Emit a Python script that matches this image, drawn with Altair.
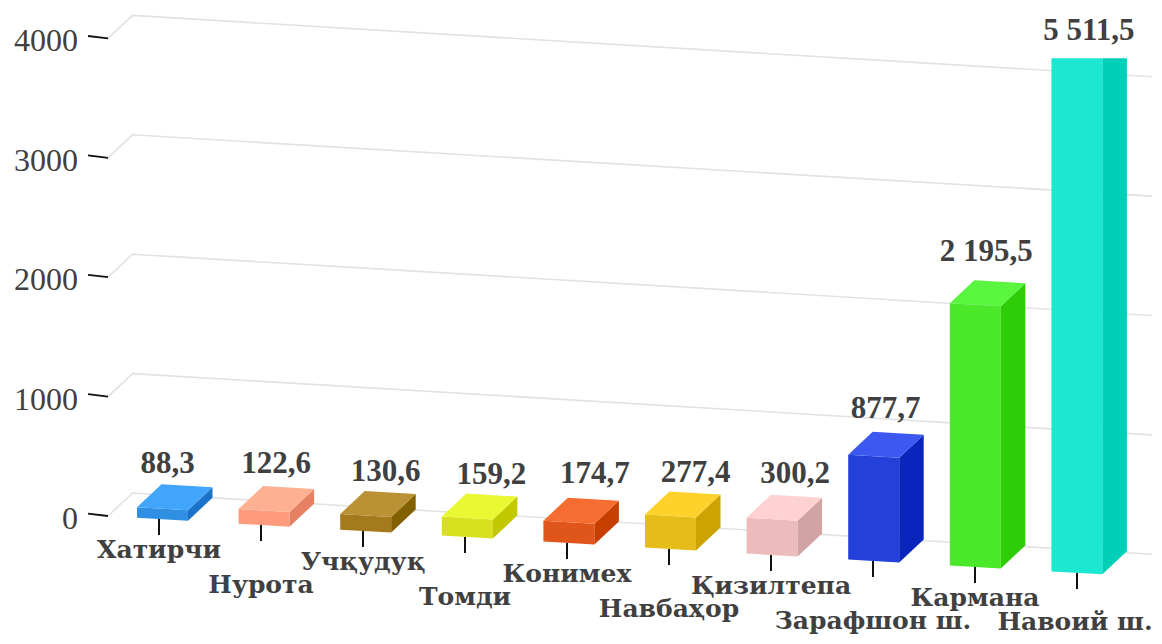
import altair as alt
import pandas as pd

categories = ["Хатирчи", "Нурота", "Учқудуқ", "Томди", "Конимех", "Навбаҳор", "Қизилтепа", "Зарафшон ш.", "Кармана", "Навоий ш."]
values = [88.3, 122.6, 130.6, 159.2, 174.7, 277.4, 300.2, 877.7, 2195.5, 5511.5]
labels = ["88,3", "122,6", "130,6", "159,2", "174,7", "277,4", "300,2", "877,7", "2 195,5", "5 511,5"]
axis_ticks = [0, 1000, 2000, 3000, 4000]
front_colors = ["#2f8fe2", "#fd9b7c", "#a47a1c", "#d8e020", "#e0551a", "#e6bc18", "#ecbcbc", "#2340d8", "#4ae828", "#1ce8d2"]
top_colors = ["#40a5fb", "#ffb093", "#ba9133", "#eaf833", "#f56d30", "#ffd22b", "#ffd2d2", "#3c58f0", "#5af53e", "#1ce8d2"]
side_colors = ["#1a73c8", "#e58063", "#836000", "#c3c900", "#c63e00", "#cca300", "#d2a3a3", "#0a25bb", "#2fcc08", "#00cfb8"]
label_dx = [5, 12, 20, 24, 26, 25, 23, 12, 11, 12]
label_lift = [11, 13, 10, 10, 15, 9, 12, 14, 19, 18]

W, H = 1146, 628
K = 0.1194        # px per axis unit
SLOPE = 0.0587    # floor tilt, px per px
X0, Y0 = 108, 516 # page position of the zero line at the axis
DX, DY = 24.5, 23 # depth offset of the oblique projection
BAR_W, STEP, LEFT = 51, 101.6, 137
CEIL = (Y0 - 58.3) / K  # the tallest bar is cut off at this axis height
YMIN = (Y0 - 8 - H) / K


def Y(px, v=0.0, depth=0.0):
    return v - SLOPE * (px - X0) / K + depth * DY / K


def pt(px):
    return px - 8


polys, texts, cats, ticks = [], [], [], []
domain, colors = [], []


def poly(name, color, points):
    domain.append(name)
    colors.append(color)
    for n, (x, y) in enumerate(points):
        polys.append({"face": name, "n": n, "x": pt(x), "y": y})


for i, v in enumerate(values):
    x0 = LEFT + i * STEP
    x1 = x0 + BAR_W
    cut = Y(x0, v) > CEIL
    t0 = min(Y(x0, v), CEIL)
    t1 = min(Y(x1, v), CEIL)
    b0, b1 = Y(x0), Y(x1)
    poly(f"{i}f", front_colors[i], [(x0, b0), (x1, b1), (x1, t1), (x0, t0)])
    s0 = min(Y(x1, v, 1), CEIL)
    poly(f"{i}s", side_colors[i], [(x1, b1), (x1 + DX, Y(x1, 0, 1)), (x1 + DX, s0), (x1, t1)])
    if not cut:
        poly(f"{i}t", top_colors[i], [(x0, t0), (x1, t1), (x1 + DX, Y(x1, v, 1)), (x0 + DX, Y(x0, v, 1))])
    back = min(Y(x0, v, 1), CEIL)
    texts.append({"x": pt(x0 + BAR_W / 2 + label_dx[i]), "y": back + label_lift[i] / K, "t": labels[i]})
    tx = 159 + i * 102
    ty0, ty1 = Y(tx), Y(tx) - 16 / K
    ticks += [{"k": i, "x": pt(tx), "y": ty0}, {"k": i, "x": pt(tx), "y": ty1}]
    # labels stay inside the page: the last one is held back from the corner
    cats.append({
        "x": min(pt(tx), W - 79),
        "y": max(ty1 - (23 if i % 2 == 0 else 52) / K, YMIN + 6 / K),
        "t": categories[i],
    })

grid, aticks, alabels = [], [], []
for v in axis_ticks:
    grid += [
        {"v": v, "n": 0, "x": pt(X0), "y": float(v)},
        {"v": v, "n": 1, "x": pt(X0 + DX), "y": v + DY / K},
        {"v": v, "n": 2, "x": pt(1152), "y": Y(1152, v, 1)},
    ]
    aticks += [{"v": v, "x": pt(X0), "y": float(v)}, {"v": v, "x": pt(X0 - 20), "y": v + 2.4 / K}]
    alabels.append({"x": pt(78), "y": v - 13 / K, "t": str(v)})

xs = alt.Scale(domain=[0, W], range=[0, W], nice=False, zero=False)
ys = alt.Scale(domain=[YMIN, (Y0 - 8) / K], nice=False, zero=False)
X = alt.X("x:Q", scale=xs, axis=None)
Yc = alt.Y("y:Q", scale=ys, axis=None)

grid_l = alt.Chart(pd.DataFrame(grid)).mark_line(color="#e2e2e2", strokeWidth=1.6).encode(X, Yc, detail="v:N", order="n:Q")
atick_l = alt.Chart(pd.DataFrame(aticks)).mark_line(color="#111111", strokeWidth=1.8).encode(X, Yc, detail="v:N")
cat_ticks = alt.Chart(pd.DataFrame(ticks)).mark_line(color="#111111", strokeWidth=2).encode(X, Yc, detail="k:N")
bars = alt.Chart(pd.DataFrame(polys)).mark_line(filled=True, interpolate="linear-closed", strokeWidth=0).encode(
    X, Yc,
    color=alt.Color("face:N", scale=alt.Scale(domain=domain, range=colors), legend=None),
    order="n:Q",
)
tick_text = alt.Chart(pd.DataFrame(alabels)).mark_text(
    font="Liberation Serif", fontSize=32, align="right", baseline="alphabetic", color="#404040"
).encode(X, Yc, text="t:N")
cat_text = alt.Chart(pd.DataFrame(cats)).mark_text(
    font="DejaVu Serif", fontWeight="bold", fontSize=25, align="center", baseline="alphabetic", color="#404040"
).encode(X, Yc, text="t:N")
val_text = alt.Chart(pd.DataFrame(texts)).mark_text(
    font="Liberation Serif", fontWeight="bold", fontSize=31, align="center", baseline="alphabetic", color="#404040"
).encode(X, Yc, text="t:N")

chart = alt.layer(grid_l, atick_l, cat_ticks, bars, tick_text, cat_text, val_text).properties(
    width=W, height=H, padding=0, autosize=alt.AutoSizeParams(type="none")
).configure_view(stroke=None)

chart.save("out.html", embed_options={"renderer": "svg", "actions": False})
